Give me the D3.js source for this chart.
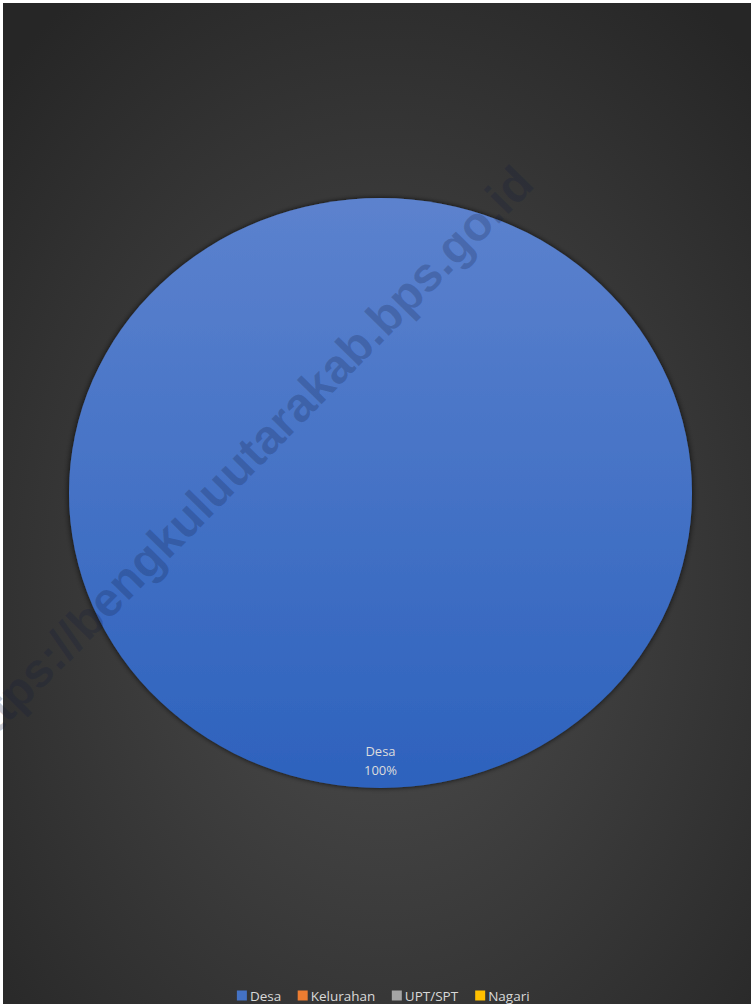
<!DOCTYPE html>
<html>
<head>
<meta charset="utf-8">
<script src="https://cdn.jsdelivr.net/npm/d3@7"></script>
<style>
  body { margin: 0; background: #fff; }
  svg { display: block; }
</style>
</head>
<body>
<div id="chart"></div>
<script>
const categories = ['Desa', 'Kelurahan', 'UPT/SPT', 'Nagari'];
const values = [100, 0, 0, 0];
const colors = ['#4472c4', '#ed7d31', '#a5a5a5', '#ffc000'];
const watermark = 'https://bengkuluutarakab.bps.go.id';

const W = 751, H = 1004;
const svg = d3.select('#chart').append('svg')
  .attr('width', W)
  .attr('height', H);

const defs = svg.append('defs');
const bg = defs.append('radialGradient').attr('id', 'bg')
  .attr('cx', '51%').attr('cy', '58%').attr('r', '72%');
bg.append('stop').attr('offset', '0%').attr('stop-color', '#4e4e4e');
bg.append('stop').attr('offset', '100%').attr('stop-color', '#262626');

const pieGrad = defs.append('linearGradient').attr('id', 'pieGrad')
  .attr('x1', 0).attr('y1', 0).attr('x2', 0).attr('y2', 1);
pieGrad.append('stop').attr('offset', '0%').attr('stop-color', '#5c82ce');
pieGrad.append('stop').attr('offset', '100%').attr('stop-color', '#2d62bd');

const shadow = defs.append('filter').attr('id', 'shadow')
  .attr('x', '-10%').attr('y', '-10%').attr('width', '120%').attr('height', '120%');
shadow.append('feDropShadow').attr('dx', 0).attr('dy', 0)
  .attr('stdDeviation', 3).attr('flood-color', '#000').attr('flood-opacity', 0.8);

// chart area
svg.append('rect')
  .attr('x', 3).attr('y', 3)
  .attr('width', W - 3).attr('height', H - 3)
  .attr('fill', 'url(#bg)');

// pie (slightly flattened, like the original)
const cx = 380.5, cy = 493;
const rx = 311.5, ry = 295;
const pie = d3.pie().sort(null).value(d => d.value);
const arcs = pie(categories.map((c, i) => ({ name: c, value: values[i], color: colors[i] })));
const arc = d3.arc().innerRadius(0).outerRadius(rx);

const g = svg.append('g')
  .attr('transform', `translate(${cx}, ${cy}) scale(1, ${ry / rx})`);
g.selectAll('path')
  .data(arcs.filter(d => d.data.value > 0))
  .enter()
  .append('path')
  .attr('d', arc)
  .attr('fill', (d, i) => i === 0 ? 'url(#pieGrad)' : d.data.color)
  .attr('filter', 'url(#shadow)');

// data labels, placed near the rim like Excel's "best fit"
const lr = rx * 0.905;
const labelArc = d3.arc().innerRadius(lr).outerRadius(lr);
const fmt = d3.format('.0%');
const total = d3.sum(values);
const lab = svg.append('g');
arcs.filter(d => d.data.value > 0).forEach(d => {
  const [lx, ly] = labelArc.centroid({ startAngle: d.startAngle, endAngle: d.endAngle });
  const px = cx + lx, py = cy + ly * ry / rx;
  const t = lab.append('text')
    .attr('text-anchor', 'middle')
    .attr('font-family', 'Open Sans, sans-serif')
    .attr('font-size', 13)
    .attr('fill', '#dcdcdc');
  t.append('tspan').attr('x', px).attr('y', py - 4).text(d.data.name);
  t.append('tspan').attr('x', px).attr('y', py + 15).text(fmt(d.data.value / total));
});

// watermark
svg.append('text')
  .attr('transform', 'translate(536, 186) rotate(-45.5)')
  .attr('text-anchor', 'end')
  .attr('font-family', 'Liberation Sans, Arial, sans-serif')
  .attr('font-weight', 'bold')
  .attr('font-size', 48)
  .attr('fill', 'rgba(15, 25, 60, 0.22)')
  .text(watermark);

// legend
const legend = svg.append('g').attr('transform', 'translate(0, 995)');
const item = legend.selectAll('g')
  .data(categories)
  .enter()
  .append('g');
item.append('rect')
  .attr('y', -4.5)
  .attr('width', 10).attr('height', 10)
  .attr('fill', (d, i) => colors[i]);
item.append('text')
  .attr('x', 13)
  .attr('y', 5.5)
  .attr('font-family', 'Open Sans, sans-serif')
  .attr('font-size', 13.5)
  .attr('fill', '#d9d9d9')
  .text(d => d);
let widths = [];
item.each(function () { widths.push(this.getBBox().width); });
const gap = 16.5;
const totalW = d3.sum(widths) + gap * (widths.length - 1);
let x = 234.5 + (297.5 - totalW) / 2;
item.attr('transform', (d, i) => {
  const tx = x;
  x += widths[i] + gap;
  return `translate(${tx}, 0)`;
});
</script>
</body>
</html>
